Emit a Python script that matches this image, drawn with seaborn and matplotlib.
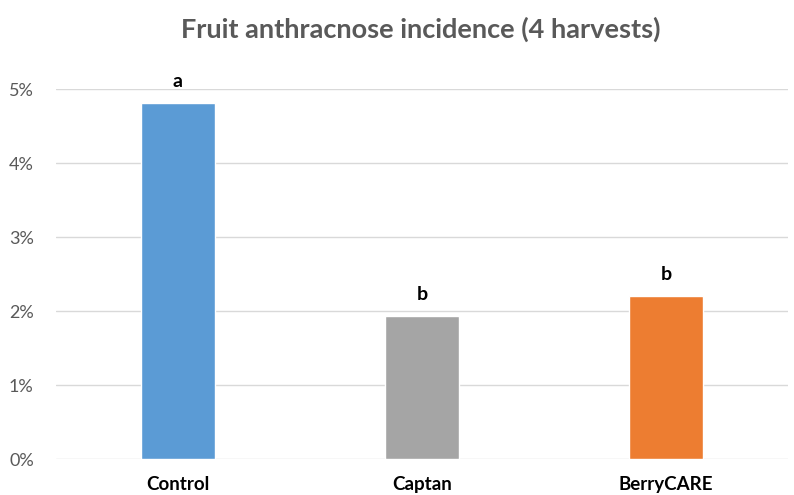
import matplotlib
matplotlib.use("Agg")
import matplotlib.pyplot as plt
import seaborn as sns
import pandas as pd
from matplotlib.ticker import PercentFormatter

# data
treatments = ["Control", "Captan", "BerryCARE"]
incidence = [4.81, 1.93, 2.20]
letters = ["a", "b", "b"]
colors = ["#5B9BD5", "#A5A5A5", "#ED7D31"]

df = pd.DataFrame({"Treatment": treatments, "Incidence": incidence})

sns.set_theme(style="white")
plt.rcParams["font.family"] = ["Lato", "DejaVu Sans"]

fig = plt.figure(figsize=(7.94, 4.95), dpi=100)
ax = fig.add_axes([0.0705, 0.0727, 0.922, 0.7475])

sns.barplot(data=df, x="Treatment", y="Incidence", hue="Treatment",
            palette=colors, width=0.3, legend=False, ax=ax, saturation=1)

ax.set_ylim(0, 5)
ax.set_xlim(-0.5, 2.5)
ax.set_yticks([0, 1, 2, 3, 4, 5])
ax.yaxis.set_major_formatter(PercentFormatter(decimals=0))
ax.grid(axis="y", color="#D9D9D9", linewidth=1)
ax.set_axisbelow(True)
for s in ax.spines.values():
    s.set_visible(False)
ax.tick_params(axis="y", length=0, labelsize=13, labelcolor="#595959", pad=16)
ax.tick_params(axis="x", length=0, labelsize=13.5, labelcolor="black", pad=12)
for lbl in ax.get_xticklabels():
    lbl.set_fontweight("bold")
ax.set_xlabel("")
ax.set_ylabel("")

# significance letters
for i, (v, t) in enumerate(zip(incidence, letters)):
    ax.text(i, v + 0.18, t, ha="center", va="bottom", fontsize=14,
            fontweight="bold", color="black", clip_on=False)

fig.text(0.53, 0.94, "Fruit anthracnose incidence (4 harvests)", ha="center",
         va="center", fontsize=19.5, fontweight="bold", color="#595959")

fig.savefig("out.png", dpi=100)
